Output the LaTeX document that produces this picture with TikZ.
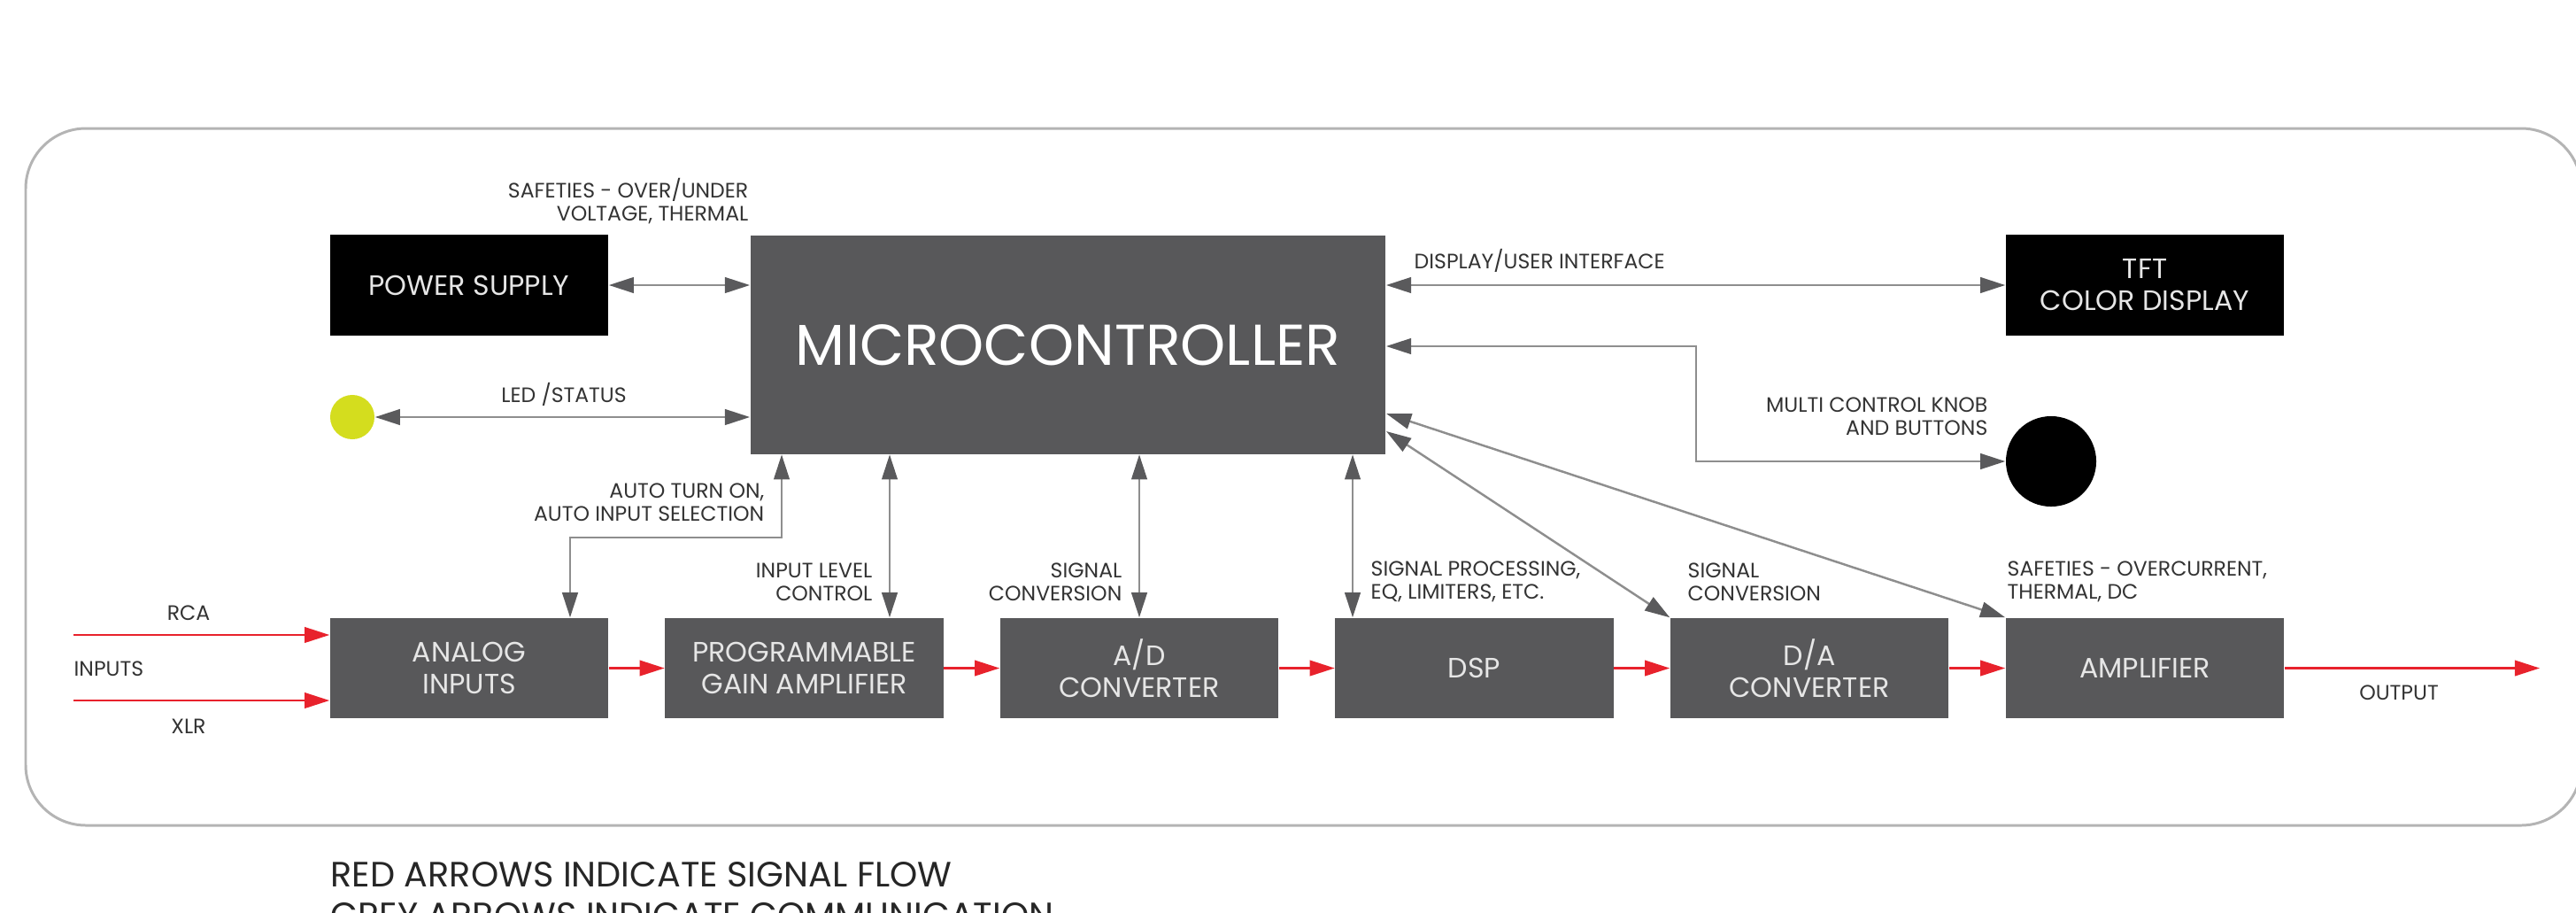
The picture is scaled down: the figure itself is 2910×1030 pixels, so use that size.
\documentclass[tikz,border=0pt]{standalone}
\usepackage{fontspec}
\setmainfont{Poppins}
\usetikzlibrary{arrows.meta,calc}
\definecolor{boxgrey}{HTML}{58585A}
\definecolor{linegrey}{HTML}{8E8E8E}
\definecolor{tipgrey}{HTML}{5A5A5C}
\definecolor{sigred}{HTML}{E8222C}
\definecolor{framegrey}{HTML}{B4B4B4}
\definecolor{labgrey}{HTML}{333333}
\definecolor{ledyellow}{HTML}{D4DD1E}
\definecolor{boxtext}{HTML}{E6E6E6}
\tikzset{
  block/.style={fill=boxgrey, text=boxtext, minimum width=3.14cm, minimum height=1.13cm, inner sep=0pt, align=center, font=\fontsize{9}{10.2}\selectfont},
  blackblock/.style={block, fill=black},
  lab/.style={text=labgrey, inner sep=0pt, font=\fontsize{6.7}{7.4}\selectfont},
  comm/.style={draw=linegrey, line width=0.7pt, {Triangle[length=8pt,width=5pt,color=tipgrey]}-{Triangle[length=8pt,width=5pt,color=tipgrey]}},
  sig/.style={draw=sigred, line width=0.6pt, -{Triangle[length=8pt,width=5pt]}},
}
\begin{document}
\begin{tikzpicture}[x=0.01cm,y=-0.01cm]
\useasboundingbox (0,0) rectangle (2910,1030);
\clip (0,0) rectangle (2910,1030);
% frame
\draw[framegrey, line width=0.85pt, rounded corners=0.68cm] (29,145) rectangle (2916,932);
% top blocks
\node[blackblock] (ps) at (530,322) {POWER SUPPLY};
\node[block, minimum width=7.17cm, minimum height=2.46cm, font=\fontsize{18.5}{20}\selectfont, text=white] (mc) at (1206.5,389.5) {MICROCONTROLLER};
\node[blackblock] (tft) at (2423,322) {TFT\\COLOR DISPLAY};
\node[circle, fill=ledyellow, minimum size=0.5cm, inner sep=0pt] (led) at (398,471) {};
\node[circle, fill=black, minimum size=1.02cm, inner sep=0pt] (knob) at (2317,521) {};
% bottom row
\node[block] (ain) at (530,754.5) {ANALOG\\INPUTS};
\node[block] (pga) at (908.5,754.5) {PROGRAMMABLE\\GAIN AMPLIFIER};
\node[block] (ad) at (1287,754.5) {A/D\\CONVERTER};
\node[block] (dsp) at (1665.5,754.5) {DSP};
\node[block] (da) at (2044,754.5) {D/A\\CONVERTER};
\node[block] (amp) at (2423,754.5) {AMPLIFIER};
% coordinates
\coordinate (rca) at (83,717);
\coordinate (xlr) at (83,791);
\coordinate (out) at (2869,754.5);
\coordinate (kb) at (1916,391);
\coordinate (au1) at (883,607);
\coordinate (au2) at (644,607);
\coordinate (pg) at (1005,600);
\coordinate (dp) at (1528,600);
\coordinate (d1) at (1566,467);
\coordinate (d2) at (1566,487);
% grey connectors
\draw[comm] (ps.east) -- (ps.east -| mc.west);
\draw[comm] (led.east) -- (led.east -| mc.west);
\draw[comm] (tft.west -| mc.east) -- (tft.west);
\draw[comm] (kb -| mc.east) -- (kb) |- (knob.west);
\draw[comm] (d1) -- (amp.north west);
\draw[comm] (d2) -- (da.north west);
\draw[comm] (au1 |- mc.south) -- (au1) -- (au2) -- (au2 |- ain.north);
\draw[comm] (pg |- mc.south) -- (pg |- pga.north);
\draw[comm] (ad.north |- mc.south) -- (ad.north);
\draw[comm] (dp |- mc.south) -- (dp |- dsp.north);
% red connectors
\draw[sig] (rca) -- (rca -| ain.west);
\draw[sig] (xlr) -- (xlr -| ain.west);
\draw[sig] (ain) -- (pga);
\draw[sig] (pga) -- (ad);
\draw[sig] (ad) -- (dsp);
\draw[sig] (dsp) -- (da);
\draw[sig] (da) -- (amp);
\draw[sig] (amp.east) -- (out);
% labels
\node[lab, align=right, anchor=east] (l1) at (846,227) {SAFETIES - OVER/UNDER\\VOLTAGE, THERMAL};
\node[lab] (l2) at (637,445) {LED /STATUS};
\node[lab, anchor=west] (l3) at (1597,294) {DISPLAY/USER INTERFACE};
\node[lab, align=right, anchor=east] (l4) at (2246,470) {MULTI CONTROL KNOB\\AND BUTTONS};
\node[lab, align=right, anchor=east] (l5) at (864,567) {AUTO TURN ON,\\AUTO INPUT SELECTION};
\node[lab, align=right, anchor=east] (l6) at (986,657) {INPUT LEVEL\\CONTROL};
\node[lab, align=right, anchor=east] (l7) at (1268,657) {SIGNAL\\CONVERSION};
\node[lab, align=left, anchor=west] (l8) at (1548,657) {SIGNAL PROCESSING,\\EQ, LIMITERS, ETC.};
\node[lab, align=left, anchor=west] (l9) at (1906,657) {SIGNAL\\CONVERSION};
\node[lab, align=left, anchor=west] (l10) at (2267,657) {SAFETIES - OVERCURRENT,\\THERMAL, DC};
\node[lab] (l11) at (213,692) {RCA};
\node[lab] (l12) at (213,820) {XLR};
\node[lab, anchor=west] (l13) at (83,755) {INPUTS};
\node[lab] (l14) at (2710,782) {OUTPUT};
\node[lab, anchor=west, font=\fontsize{11.3}{13}\selectfont, text=black!85] (lg1) at (373,988) {RED ARROWS INDICATE SIGNAL FLOW};
\node[lab, anchor=west, font=\fontsize{11.3}{13}\selectfont, text=black!85] (lg2) at (373,1034) {GREY ARROWS INDICATE COMMUNICATION};
\end{tikzpicture}
\end{document}
